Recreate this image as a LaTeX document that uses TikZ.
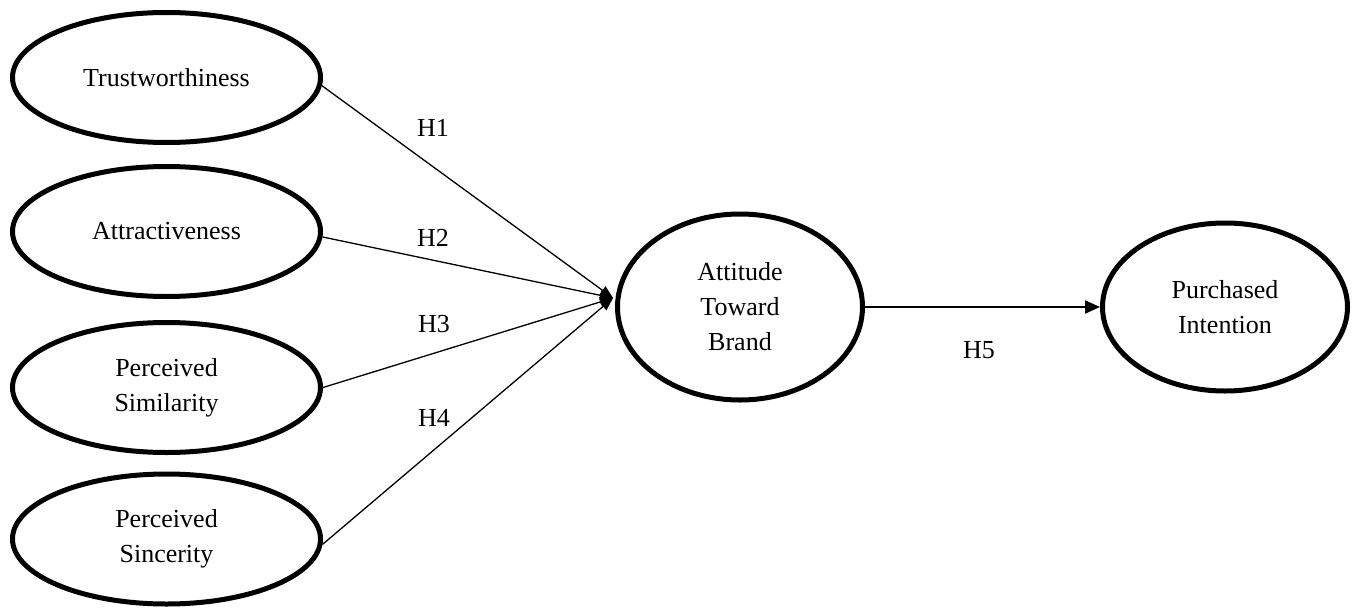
\documentclass[tikz,border=0pt]{standalone}
\usepackage{fontspec}
\setmainfont{Liberation Serif}
\usetikzlibrary{shapes.geometric,arrows.meta}
\begin{document}
\begin{tikzpicture}[x=1pt,y=-1pt,
  txt/.style={font=\fontsize{26}{35}\selectfont},
  construct/.style={ellipse,draw,line width=5pt,align=center,inner sep=0pt,txt},
  leftbox/.style={construct,minimum width=308pt,minimum height=130pt},
  linkarrow/.style={line width=1.3pt,-{Triangle[length=13pt,width=10pt]}},
  mainarrow/.style={line width=2pt,-{Triangle[length=15pt,width=13pt]}},
  hlabel/.style={txt,inner sep=0pt}]
\useasboundingbox (0,0) rectangle (1359,610);
\node[leftbox] (trust) at (166.5,77.5) {Trustworthiness};
\node[leftbox] (attr) at (166.5,231.5) {Attractiveness};
\node[leftbox] (sim) at (166.5,387.5) {Perceived\\Similarity};
\node[leftbox] (sinc) at (166.5,539) {Perceived\\Sincerity};
\node[construct,minimum width=245pt,minimum height=186pt] (att) at (740,307) {Attitude\\Toward\\Brand};
\node[construct,minimum width=245pt,minimum height=168pt] (pur) at (1225,307) {Purchased\\Intention};
\coordinate (tip) at ([xshift=-2pt,yshift=9pt]att.west);
\draw[linkarrow] (trust.-3) -- (tip);
\draw[linkarrow] (attr.-2) -- (tip);
\draw[linkarrow] (sim.east) -- (tip);
\draw[linkarrow] (sinc.-2) -- (tip);
\draw[mainarrow] (att.east) -- (pur.west);
\node[hlabel] (h1) at (433,128) {H1};
\node[hlabel] (h2) at (433,238) {H2};
\node[hlabel] (h3) at (434,324) {H3};
\node[hlabel] (h4) at (434,418) {H4};
\node[hlabel] (h5) at (979,350) {H5};
\end{tikzpicture}
\end{document}
